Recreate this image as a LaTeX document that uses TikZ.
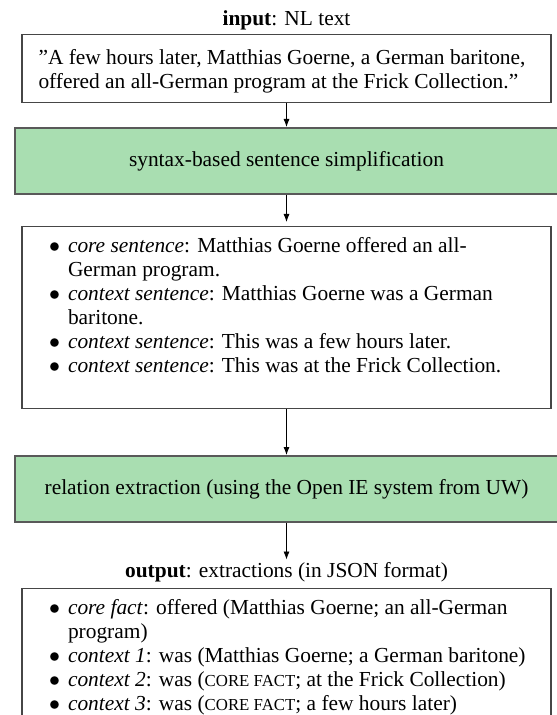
\documentclass[tikz,border=0pt]{standalone}
\usepackage{fontspec}
\setmainfont{Liberation Serif}
\usepackage{enumitem}
\usetikzlibrary{arrows.meta,positioning}

\definecolor{stepgreen}{RGB}{169,222,177}
\definecolor{framegray}{RGB}{70,70,70}

\newcommand\scfake[1]{{\fontsize{8.4}{12}\selectfont #1}}
\newcommand\boxhead{\rule{0pt}{10.5pt}}
\newcommand\boxtail[1]{\rule[-#1]{0pt}{#1}}

\tikzset{
  databox/.style={draw=framegray, line width=0.6pt, fill=white,
    inner xsep=0pt, inner ysep=4.5pt, minimum width=264.5pt},
  stepbox/.style={draw=framegray!90, line width=0.9pt, fill=stepgreen,
    minimum width=271.5pt, minimum height=33pt},
  heading/.style={inner sep=1pt},
}

\begin{document}
\begin{tikzpicture}[x=0.5pt, y=-0.5pt, >={Latex[length=4pt, width=3pt]}]

  \fontsize{10.7}{12}\selectfont

  \newcommand\XM{286.5}
  \newcommand\YIN{34}
  \newcommand\YSIMP{127}
  \newcommand\YSENT{226}
  \newcommand\YREL{455}
  \newcommand\YOUT{588}

  \useasboundingbox (0, 0) rectangle (556, 715);

  \node[heading, anchor=base] (intitle) at (\XM, 26)
  {\textbf{input}: NL text};

  \node[databox, anchor=north] (intext) at (\XM, \YIN)
  {\parbox{248pt}{\raggedright\boxhead ”A few hours later,
      Matthias Goerne, a German baritone, offered an all-German
      program at the Frick Collection.”}};

  \node[stepbox, anchor=north] (simp) at (\XM, \YSIMP)
  {syntax-based sentence simplification};

  \node[databox, anchor=north] (sents) at (\XM, \YSENT)
  {\parbox{262pt}{\raggedright
      \begin{itemize}[nosep, leftmargin=21.75pt, labelsep=4pt, label=$\bullet$]
      \item \strut\emph{core sentence}: Matthias Goerne offered an all-\newline German program.
      \item \emph{context sentence}: Matthias Goerne was a German\newline baritone.
      \item \emph{context sentence}: This was a few hours later.
      \item \emph{context sentence}: This was at the Frick Collection.\boxtail{13.5pt}
      \end{itemize}}};

  \node[stepbox, anchor=north] (relex) at (\XM, \YREL)
  {relation extraction (using the Open IE system from UW)};

  \node[heading, anchor=base] (outtitle) at (\XM, 577)
  {\textbf{output}: extractions (in JSON format)};

  \node[databox, anchor=north] (facts) at (\XM, \YOUT)
  {\parbox{262pt}{\raggedright
      \begin{itemize}[nosep, leftmargin=21.75pt, labelsep=4pt, label=$\bullet$]
      \item \strut\emph{core fact}: offered (Matthias Goerne; an all-German\newline program)
      \item \emph{context 1}: was (Matthias Goerne; a German baritone)
      \item \emph{context 2}: was (\scfake{CORE FACT}; at the Frick Collection)
      \item \emph{context 3}: was (\scfake{CORE FACT}; a few hours later)\boxtail{11pt}
      \end{itemize}}};

  \draw[->] (intext) -- (simp);
  \draw[->, shorten >=2pt] (simp) -- (sents);
  \draw[->] (sents) -- (relex);
  \draw[->] (relex) -- (outtitle);

\end{tikzpicture}
\end{document}
